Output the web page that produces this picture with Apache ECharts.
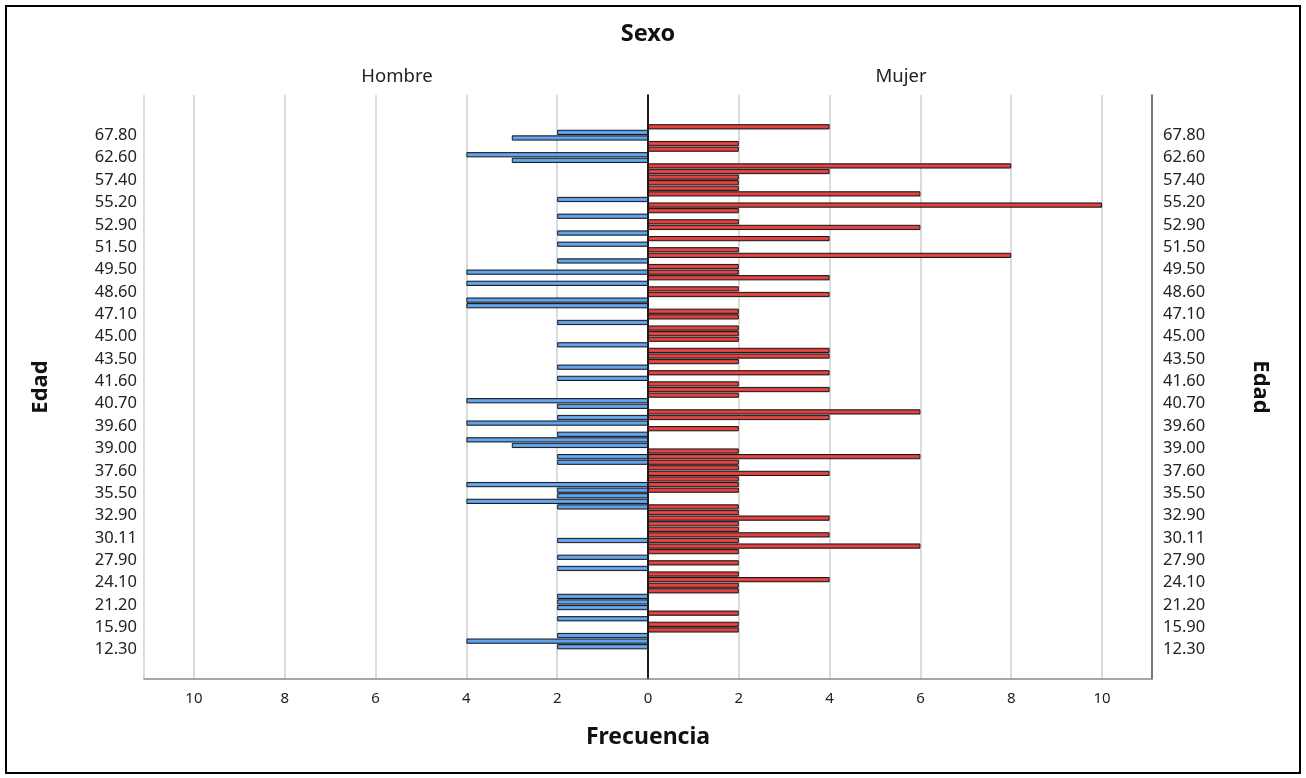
<!DOCTYPE html>
<html>
<head>
<meta charset="utf-8">
<script src="https://cdn.jsdelivr.net/npm/echarts@6/dist/echarts.min.js"></script>
<style>
  html, body { margin: 0; padding: 0; background: #fff; }
  #wrap { position: relative; width: 1306px; height: 778px; }
  #chart { position: absolute; left: 0; top: 0; width: 1306px; height: 778px; }
  #frame { position: absolute; left: 5px; top: 5px; width: 1296px; height: 769px;
           border: 2px solid #000; box-sizing: border-box; pointer-events: none; }
</style>
</head>
<body>
<div id="wrap"><div id="chart"></div><div id="frame"></div></div>
<script>
// Age tick labels (bottom to top), shown every 4th category
const tickLabels = ['12.30','15.90','21.20','24.10','27.90','30.11','32.90','35.50','37.60','39.00',
  '39.60','40.70','41.60','43.50','45.00','47.10','48.60','49.50','51.50','52.90',
  '55.20','57.40','62.60','67.80'];

// Frequencies per age category (bottom = youngest to top = oldest), 94 categories
const hombre = [
  2,4,2,0,0,2,0,2,2,2,
  0,0,0,0,2,0,2,0,0,2,
  0,0,0,0,0,2,4,2,2,4,
  0,0,0,2,2,0,3,4,2,0,
  4,2,0,2,4,0,0,0,2,0,
  2,0,0,0,2,0,0,0,2,0,
  0,4,4,0,0,4,0,4,0,2,
  0,0,2,0,2,0,0,2,0,0,
  2,0,0,0,0,0,0,3,4,0,
  0,3,2,0
];
const mujer = [
  0,0,0,2,2,0,2,0,0,0,
  2,2,4,2,0,2,0,2,6,2,
  4,2,2,4,2,2,0,0,2,2,
  2,4,2,2,6,2,0,0,0,2,
  0,4,6,0,0,2,4,2,0,4,
  0,2,4,4,0,2,2,2,0,2,
  2,0,0,4,2,0,4,2,2,0,
  8,2,0,4,0,6,2,0,2,10,
  0,6,2,2,2,4,8,0,0,2,
  2,0,0,4
];

const categories = hombre.map((_, i) => (i % 4 === 0 ? tickLabels[i / 4] : '\u200b' + i));

const FONT = 'Noto Sans';
const chart = echarts.init(document.getElementById('chart'), null, { renderer: 'canvas' });

const grad = (dark, light) => ({
  type: 'linear', x: 0, y: 0, x2: 0, y2: 1,
  colorStops: [
    { offset: 0, color: dark }, { offset: 0.5, color: light }, { offset: 1, color: dark }
  ]
});

const XMAX = 11.1;
const frameX = (gi, inverse, hideZero) => ({
  type: 'value', gridIndex: gi, inverse: inverse, min: 0, max: XMAX, interval: 2,
  axisLine: { show: true, lineStyle: { color: '#8a8a8a', width: 1.5 } },
  axisTick: { show: false },
  splitLine: { show: true, lineStyle: { color: '#cfcfcf', width: 1.5 } },
  axisLabel: {
    color: '#222', fontSize: 15, fontFamily: FONT, margin: 12,
    formatter: v => (Math.abs(v % 2) < 1e-9 && !(hideZero && v === 0) ? String(v) : '')
  }
});

const catY = (gi, pos, margin) => ({
  type: 'category', gridIndex: gi, position: pos, data: categories,
  axisLine: { show: false }, axisTick: { show: false },
  axisLabel: { interval: 3, color: '#222', fontSize: 16.5, fontFamily: FONT, margin: margin,
               formatter: v => '{a|' + v + '}',
               rich: { a: { fontSize: 16.5, fontFamily: FONT, color: '#222', padding: [6, 0, 0, 0] } } }
});

chart.setOption({
  animation: false,
  textStyle: { fontFamily: FONT },
  title: [
    { text: 'Sexo', left: 648, top: 22, textAlign: 'center', padding: 0,
      textStyle: { fontSize: 23.5, fontWeight: 'bold', color: '#111', fontFamily: FONT } },
    { text: 'Hombre', left: 397, top: 67, textAlign: 'center', padding: 0,
      textStyle: { fontSize: 18.5, fontWeight: 'normal', color: '#222', fontFamily: FONT } },
    { text: 'Mujer', left: 901, top: 67, textAlign: 'center', padding: 0,
      textStyle: { fontSize: 18.5, fontWeight: 'normal', color: '#222', fontFamily: FONT } },
    { text: 'Frecuencia', left: 648, top: 726, textAlign: 'center', padding: 0,
      textStyle: { fontSize: 23, fontWeight: 'bold', color: '#111', fontFamily: FONT } }
  ],
  grid: [
    { left: 144, right: 658, top: 95, bottom: 99, containLabel: false },
    { left: 648, right: 154, top: 95, bottom: 99, containLabel: false },
    { left: 144, right: 658, top: 124, bottom: 128.5, containLabel: false },
    { left: 648, right: 154, top: 124, bottom: 128.5, containLabel: false }
  ],
  xAxis: [
    frameX(0, true, false),
    frameX(1, false, true),
    { type: 'value', gridIndex: 2, inverse: true, min: 0, max: XMAX, show: false },
    { type: 'value', gridIndex: 3, min: 0, max: XMAX, show: false }
  ],
  yAxis: [
    { type: 'value', gridIndex: 0, position: 'left', min: 0, max: 1,
      axisLine: { show: true, lineStyle: { color: '#555', width: 1.5 } },
      axisTick: { show: false }, axisLabel: { show: false }, splitLine: { show: false },
      name: 'Edad', nameLocation: 'middle', nameGap: 92, nameRotate: 90,
      nameTextStyle: { fontSize: 22, fontWeight: 'bold', color: '#111', fontFamily: FONT } },
    { type: 'value', gridIndex: 1, position: 'left', min: 0, max: 1,
      axisLine: { show: true, onZero: false, lineStyle: { color: '#000', width: 1.5 } },
      axisTick: { show: false }, axisLabel: { show: false }, splitLine: { show: false } },
    { type: 'value', gridIndex: 1, position: 'right', min: 0, max: 1,
      axisLine: { show: true, onZero: false, lineStyle: { color: '#555', width: 1.5 } },
      axisTick: { show: false }, axisLabel: { show: false }, splitLine: { show: false },
      name: 'Edad', nameLocation: 'middle', nameGap: 97, nameRotate: -90,
      nameTextStyle: { fontSize: 22, fontWeight: 'bold', color: '#111', fontFamily: FONT } },
    catY(2, 'left', 7),
    catY(3, 'right', 11)
  ],
  series: [
    { name: 'Hombre', type: 'bar', xAxisIndex: 2, yAxisIndex: 3, barWidth: '94%',
      data: hombre.map(v => (v === 0 ? null : v)),
      itemStyle: { color: grad('#4583d0', '#6aaaf2'), borderColor: '#1a1a1a', borderWidth: 1 } },
    { name: 'Mujer', type: 'bar', xAxisIndex: 3, yAxisIndex: 4, barWidth: '94%',
      data: mujer.map(v => (v === 0 ? null : v)),
      itemStyle: { color: grad('#c02828', '#e64a4a'), borderColor: '#1a1a1a', borderWidth: 1 } }
  ]
});
</script>
</body>
</html>
